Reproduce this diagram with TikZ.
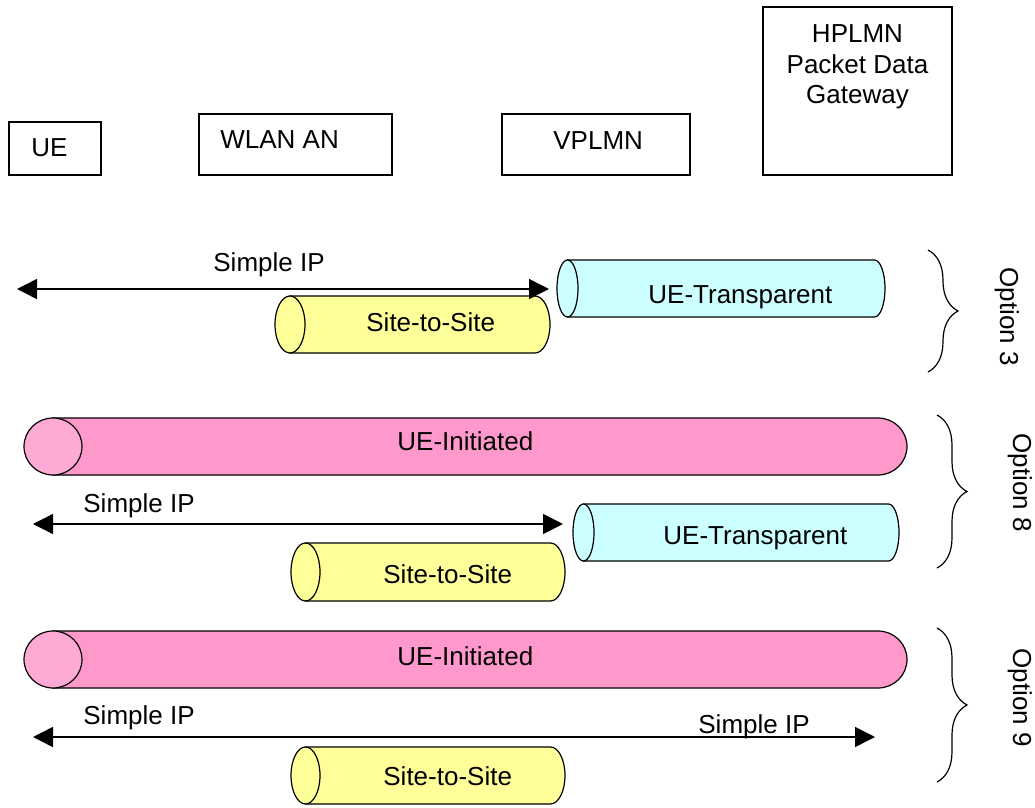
\documentclass[tikz,border=0pt]{standalone}
\usepackage{fontspec}
\setmainfont{Liberation Sans}
\usetikzlibrary{arrows.meta}
\usetikzlibrary{decorations.pathreplacing}

\definecolor{tubeyellow}{HTML}{FFFF99}
\definecolor{tubecyan}{HTML}{CCFFFF}
\definecolor{tubepink}{HTML}{FF99CC}
\definecolor{tubepinkend}{HTML}{FFAAD5}

% tunnel: left, right, top, bottom, end radius, body colour, end colour
\newcommand{\tube}[7]{%
  \filldraw[tubeline, fill=#6] (#1+#5,#3) -- (#2-#5,#3)
    arc[start angle=-90, end angle=90, x radius=#5, y radius={(#4-#3)/2}]
    -- (#1+#5,#4) -- cycle;
  \filldraw[tubeline, fill=#7] (#1+#5,{(#3+#4)/2})
    ellipse[x radius=#5, y radius={(#4-#3)/2}];
}

\begin{document}
\begin{tikzpicture}[x=0.5pt,y=-0.5pt,
    font=\fontsize{13}{15.25}\selectfont,
    box/.style={draw, line width=0.8pt, inner sep=0pt},
    txt/.style={inner sep=0pt, anchor=base west},
    tubeline/.style={draw=black, line width=0.6pt},
    sip/.style={line width=0.75pt,
        {Triangle[length=10pt,width=10pt]}-{Triangle[length=10pt,width=10pt]}},
    optbrace/.style={decorate, decoration={brace, amplitude=15pt}, line width=0.6pt}]
    \useasboundingbox (0,0) rectangle (1035,808);

    % Network elements
    \node [box, minimum width=46pt, minimum height=26.5pt] (ue) at (55,148.5) {};
    \node [txt] (uelbl) at (31,157) {UE};
    \node [box, minimum width=96.5pt, minimum height=30.5pt] (wlan) at (295.5,144.5) {};
    \node [txt] (wlanlbl) at (220,149) {WLAN AN};
    \node [box, minimum width=94pt, minimum height=30.5pt] (vplmn) at (596,144.5) {};
    \node [txt] (vplmnlbl) at (553,150) {VPLMN};
    \node [box, minimum width=94.5pt, minimum height=84pt] (hplmn) at (857.5,91) {};
    \node [inner sep=0pt, anchor=base, align=center] (hplmnlbl) at (857.5,104)
        {HPLMN\\Packet Data\\Gateway};

    % Option 3
    \tube{275}{550}{296}{353}{15}{tubeyellow}{tubeyellow}
    \tube{557}{885}{260}{317}{10.5}{tubecyan}{tubecyan}
    \node [txt] (site3) at (366,331) {Site-to-Site};
    \node [txt] (tra3) at (648,303) {UE-Transparent};
    \coordinate (ip3a) at (17,289);
    \coordinate (ip3b) at (549,289);
    \draw [sip] (ip3a) -- (ip3b);
    \node [txt] (ip3lbl) at (213,271) {Simple IP};
    \coordinate (br3a) at (928,250);
    \coordinate (br3b) at (928,372);
    \draw [optbrace] (br3a) -- (br3b);
    \node [txt, rotate=-90] (opt3) at (1000,267) {Option 3};

    % Option 8
    \tube{24}{907}{418}{475}{29}{tubepink}{tubepinkend}
    \tube{573}{899}{504}{561}{10.5}{tubecyan}{tubecyan}
    \tube{291}{565}{543}{601}{14.5}{tubeyellow}{tubeyellow}
    \node [txt] (ini8) at (397,451) {UE-Initiated};
    \node [txt] (tra8) at (663,544) {UE-Transparent};
    \node [txt] (site8) at (383,583) {Site-to-Site};
    \coordinate (ip8a) at (33,524);
    \coordinate (ip8b) at (563,524);
    \draw [sip] (ip8a) -- (ip8b);
    \node [txt] (ip8lbl) at (83,512) {Simple IP};
    \coordinate (br8a) at (937,415);
    \coordinate (br8b) at (937,568);
    \draw [optbrace] (br8a) -- (br8b);
    \node [txt, rotate=-90] (opt8) at (1013,433) {Option 8};

    % Option 9
    \tube{24}{907}{631}{688}{29}{tubepink}{tubepinkend}
    \tube{291}{565}{747}{804}{14.5}{tubeyellow}{tubeyellow}
    \node [txt] (ini9) at (397,665) {UE-Initiated};
    \node [txt] (site9) at (383,785) {Site-to-Site};
    \coordinate (ip9a) at (33,737);
    \coordinate (ip9b) at (875,737);
    \draw [sip] (ip9a) -- (ip9b);
    \node [txt] (ip9lbl) at (83,724) {Simple IP};
    \node [txt] (ip9rlbl) at (698,733) {Simple IP};
    \coordinate (br9a) at (937,628);
    \coordinate (br9b) at (937,782);
    \draw [optbrace] (br9a) -- (br9b);
    \node [txt, rotate=-90] (opt9) at (1013,648) {Option 9};
\end{tikzpicture}
\end{document}
